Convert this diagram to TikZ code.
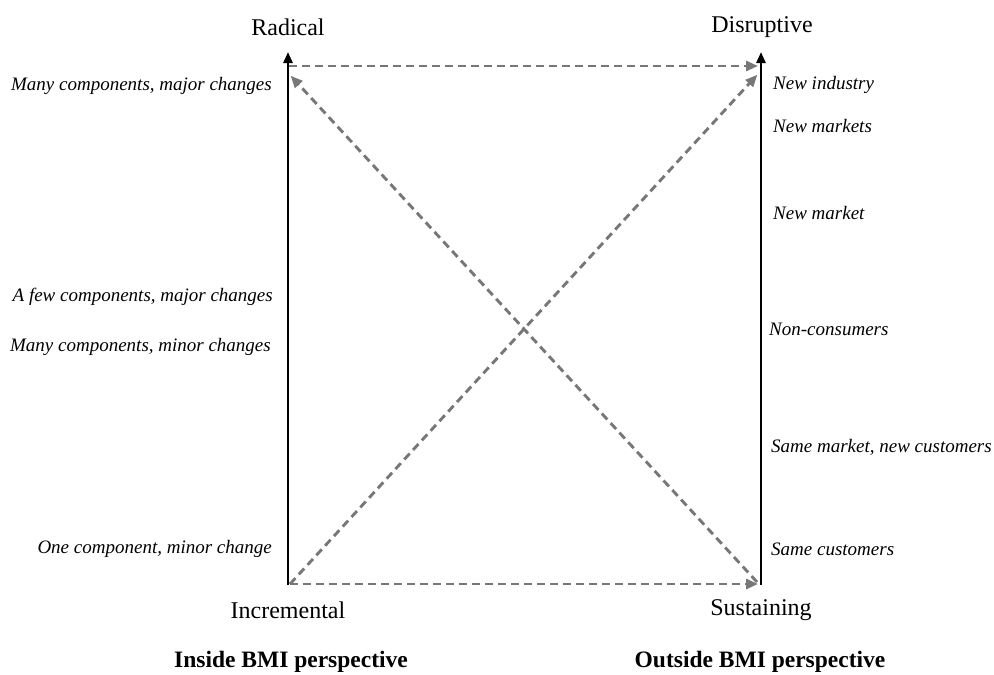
\documentclass[tikz,border=0pt]{standalone}
\usepackage{fontspec}
\setmainfont{Liberation Serif}
\usetikzlibrary{arrows.meta}
\definecolor{dashgray}{HTML}{777777}
\begin{document}
\begin{tikzpicture}[x=1pt,y=-1pt,
  pole/.style={font=\fontsize{24}{28}\selectfont, inner sep=0pt},
  persp/.style={font=\fontsize{23.5}{27}\selectfont\bfseries, inner sep=0pt},
  lefttag/.style={font=\fontsize{19}{22}\selectfont\itshape, anchor=east, inner sep=0pt},
  righttag/.style={font=\fontsize{19}{22}\selectfont\itshape, anchor=west, inner sep=0pt},
  axisline/.style={line width=2.6pt, -{Triangle[length=11pt,width=9pt]}},
  link/.style={dashgray, line width=2.9pt, dash pattern=on 8pt off 5pt,
    -{Triangle[length=12pt,width=10pt]}, shorten >=1pt}]
\useasboundingbox (0,0) rectangle (994,675);

% corners of the two scales
\coordinate (inc) at (288,585);
\coordinate (sus) at (761,585);
\coordinate (radtop) at (288,52);
\coordinate (distop) at (761,52);
\coordinate (radend) at (289,66);
\coordinate (disend) at (759,66);
\coordinate (radin) at (290,75);
\coordinate (disin) at (758,74);
\coordinate (incout) at (290,584);
\coordinate (susin) at (759,584);
\coordinate (susout) at (757,582);

% the two axes
\draw[axisline] (inc) -- (radtop);
\draw[axisline] (sus) -- (distop);

% dashed transitions
\draw[link] (radend) -- (disend);
\draw[link] (incout) -- (susin);
\draw[link] (incout) -- (disin);
\draw[link] (susout) -- (radin);

% pole labels
\node[pole] (rad) at (288,27) {Radical};
\node[pole] (dis) at (762,27) {Disruptive};
\node[pole] (incl) at (288,610) {Incremental};
\node[pole] (susl) at (761,610) {Sustaining};

% perspectives
\node[persp] (inside) at (291,662) {Inside BMI perspective};
\node[persp] (outside) at (760,662) {Outside BMI perspective};

% inside scale
\node[lefttag] (l1) at (272,86) {Many components, major changes};
\node[lefttag] (l2) at (273,297) {A few components, major changes};
\node[lefttag] (l3) at (271,347) {Many components, minor changes};
\node[lefttag] (l4) at (272,549) {One component, minor change};

% outside scale
\node[righttag] (r1) at (773,85) {New industry};
\node[righttag] (r2) at (773,126) {New markets};
\node[righttag] (r3) at (773,213) {New market};
\node[righttag] (r4) at (769,329) {Non-consumers};
\node[righttag] (r5) at (771,447) {Same market, new customers};
\node[righttag] (r6) at (771,549) {Same customers};
\end{tikzpicture}
\end{document}
